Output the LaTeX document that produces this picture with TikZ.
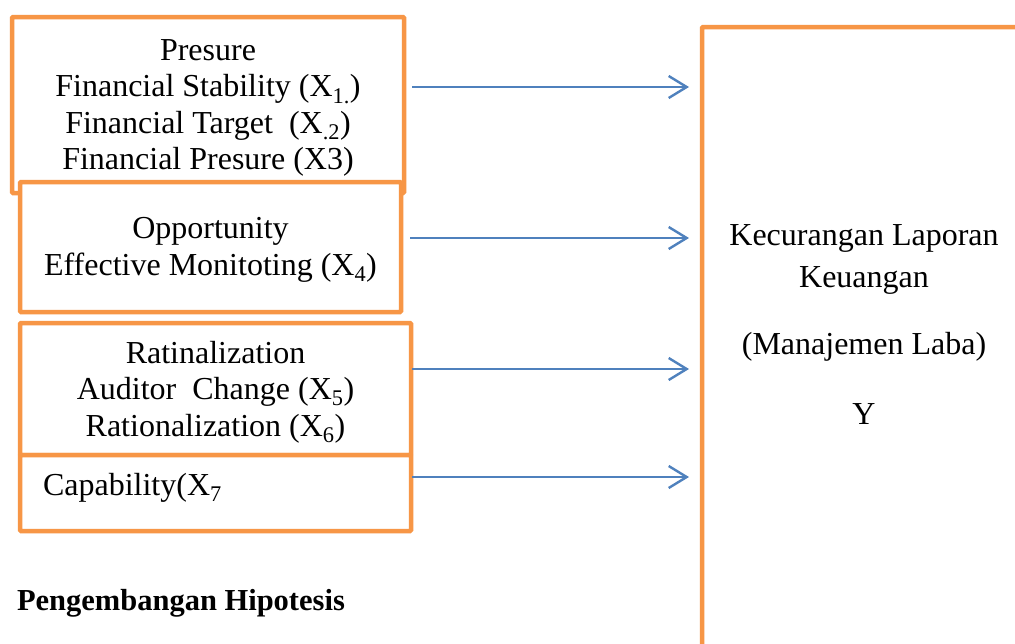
\documentclass[tikz,border=0pt]{standalone}
\usepackage{fontspec}
\setmainfont{Liberation Serif}
\usetikzlibrary{arrows.meta}
\definecolor{boxorange}{RGB}{247,150,70}
\definecolor{arrblue}{RGB}{79,129,189}
\begin{document}
\begin{tikzpicture}[x=1pt,y=-1pt,
  txt/.style={font=\fontsize{32}{36.5}\selectfont, inner sep=0pt, outer sep=0pt, align=center},
  obox/.style={draw=boxorange, line width=4.5pt, fill=white, rounded corners=1pt,
    anchor=north west, inner sep=0pt, outer sep=0pt},
  arr/.style={draw=arrblue, line width=2.4pt, -{Straight Barb[length=18pt,width=22pt,line width=2.4pt]}, shorten >=13pt}
]
\clip (0,0) rectangle (1015,643);
\fill[white] (0,0) rectangle (1015,643);
% left boxes
\node[obox, minimum width=392pt, minimum height=176pt] (b1) at (12,17) {};
\node[txt] (t1) at ([yshift=-3pt]b1.center)
  {Presure\\Financial Stability (X\textsubscript{1.})\\Financial Target\ \ (X\textsubscript{.2})\\Financial Presure (X3)};
\node[obox, minimum width=381pt, minimum height=130pt] (b2) at (20,182) {};
\node[txt] (t2) at ([yshift=-3pt]b2.center)
  {Opportunity\\Effective Monitoting (X\textsubscript{4})};
\node[obox, minimum width=391pt, minimum height=132pt] (b3) at (20,323) {};
\node[txt] (t3) at ([yshift=-3pt]b3.center)
  {Ratinalization\\Auditor\ \ Change (X\textsubscript{5})\\Rationalization (X\textsubscript{6})};
\node[obox, minimum width=391pt, minimum height=76pt] (b4) at (20,455) {};
\node[txt, anchor=base west] (cap) at (43,495) {Capability(X\textsubscript{7}};
% right box
\node[obox, minimum width=400pt, minimum height=700pt] (Y) at (702,27) {};
\node[txt, anchor=base] (k1) at (864,245) {Kecurangan Laporan};
\node[txt, anchor=base] (k2) at (864,287) {Keuangan};
\node[txt, anchor=base] (k3) at (864,354) {(Manajemen Laba)};
\node[txt, anchor=base] (k4) at (864,424) {Y};
% arrows
\draw[arr] ([xshift=8pt]b1.east |- 0,87) -- (Y.west |- 0,87);
\draw[arr] ([xshift=9pt]b2.east |- 0,238) -- (Y.west |- 0,238);
\draw[arr] ([xshift=1pt]b3.east |- 0,369) -- (Y.west |- 0,369);
\draw[arr] ([xshift=1pt]b4.east |- 0,477) -- (Y.west |- 0,477);
% title
\node[txt, font=\fontsize{30.5}{36}\selectfont\bfseries, anchor=base west] (title) at (17,610) {Pengembangan Hipotesis};
\end{tikzpicture}
\end{document}
